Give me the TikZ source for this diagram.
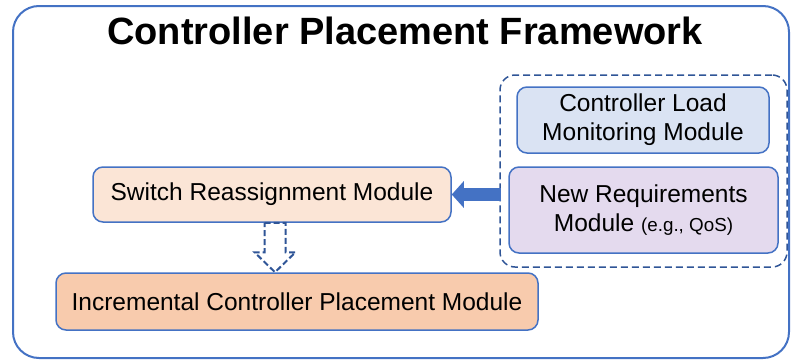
\documentclass[tikz,border=0pt]{standalone}
\usepackage{xcolor}
\usepackage{fontspec}
\setmainfont{Liberation Sans}
\usepackage{tikz}
\usetikzlibrary{arrows.meta,positioning,calc}

\definecolor{frameblue}{HTML}{4472C4}
\definecolor{darkblue}{HTML}{2F5597}
\definecolor{loadfill}{HTML}{DAE3F3}
\definecolor{reqfill}{HTML}{E4DAEE}
\definecolor{swfill}{HTML}{FBE5D6}
\definecolor{incfill}{HTML}{F8CBAD}

\tikzset{
  module/.style={draw=frameblue, line width=1.5pt, rounded corners=10pt, align=center,
    inner sep=0pt, font=\fontsize{24.5}{29}\selectfont},
  dashbox/.style={draw=darkblue, line width=1.5pt, dash pattern=on 7pt off 4pt, rounded corners=15pt},
}

\begin{document}
\begin{tikzpicture}[x=1pt,y=1pt]
    \useasboundingbox (0,0) rectangle (791,360);
    % outer frame and title
    \draw[frameblue, line width=2pt, rounded corners=26pt] (13,2) rectangle (789,354);
    \node[font=\fontsize{38}{44}\selectfont\bfseries] (title) at (405,329) {Controller Placement Framework};
    % input modules
    \node[dashbox, minimum width=287pt, minimum height=192pt] (inputs) at (643.5,189) {};
    \node[module, fill=loadfill, minimum width=252pt, minimum height=66pt] (load) at (643,240)
        {Controller Load\\Monitoring Module};
    \node[module, fill=reqfill, minimum width=269pt, minimum height=86pt] (req) at (643.5,150)
        {New Requirements\\Module {\fontsize{18.8}{22}\selectfont(e.g., QoS)}};
    % placement modules
    \node[module, fill=swfill, minimum width=358pt, minimum height=55pt] (sw) at (272,165.5)
        {Switch Reassignment Module};
    \node[module, fill=incfill, minimum width=482pt, minimum height=57pt] (inc) at (297,58.5)
        {Incremental Controller Placement Module};
    % solid arrow into the reassignment
    \draw[frameblue, line width=13pt, -{Triangle[width=26pt,length=12pt]}]
        ([xshift=2pt]inputs.west |- sw.east) -- (sw.east);
    % hollow dashed arrow down
    \coordinate (dtop) at ([xshift=3pt]sw.south);
    \coordinate (dtip) at (dtop |- inc.north);
    \draw[darkblue, line width=2pt, dash pattern=on 6pt off 3pt]
        ($(dtop)+(-10.5,0)$) -- ($(dtop)+(10.5,0)$) -- ($(dtip)+(10.5,20)$) -- ($(dtip)+(20.5,20)$)
        -- (dtip) -- ($(dtip)+(-20.5,20)$) -- ($(dtip)+(-10.5,20)$) -- cycle;
\end{tikzpicture}
\end{document}
